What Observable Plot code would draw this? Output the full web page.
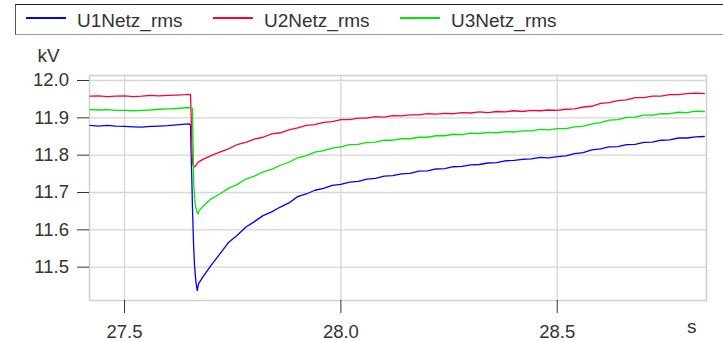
<!DOCTYPE html>
<html><head><meta charset="utf-8">
<script src="https://cdn.jsdelivr.net/npm/d3@7"></script>
<script src="https://cdn.jsdelivr.net/npm/@observablehq/plot@0.6"></script>
<style>
body{margin:0;background:#fff;font-family:"Liberation Sans",Arial,sans-serif;}
#wrap{position:relative;width:723px;height:341px;overflow:hidden;background:#fff}
#legend{position:relative;height:38px;width:723px}
#legend .box{position:absolute;left:15px;top:4px;width:730px;height:29px;border-top:1.5px solid #222;border-left:1.5px solid #555;border-bottom:1.5px solid #999;}
#legend .ln{position:absolute;top:17px;height:1.5px;width:40px}
#legend .tx{position:absolute;top:10.5px;font-size:19px;line-height:19px;color:#333;white-space:nowrap}
svg{display:block}
</style>
</head><body>
<div id="wrap">
<div id="legend"><div class="box"></div></div>
<div id="chart"></div>
</div>
<script>
// ---- data ----
const seriesNames = ["U1Netz_rms", "U2Netz_rms", "U3Netz_rms"];
const seriesColors = ["#0000ff", "#ff0033", "#00e800"];
const xTicks = [27.5, 28.0, 28.5];
const yTicks = [11.5, 11.6, 11.7, 11.8, 11.9, 12.0];

const tPre = [27.42,27.44,27.46,27.48,27.50,27.52,27.54,27.56,27.58,27.60,27.62,27.64,27.65];
const u1Pre = [11.880,11.878,11.880,11.878,11.877,11.876,11.875,11.877,11.878,11.879,11.881,11.883,11.884];
const u2Pre = [11.958,11.959,11.957,11.958,11.959,11.957,11.958,11.960,11.959,11.960,11.961,11.962,11.963];
const u3Pre = [11.922,11.921,11.922,11.920,11.920,11.919,11.920,11.921,11.923,11.924,11.925,11.927,11.927];

const tDrop1 = [27.6525,27.654,27.655,27.657,27.6595,27.662,27.665,27.668,27.671];
const u1Drop = [11.880,11.800,11.760,11.660,11.560,11.500,11.460,11.437,11.455];
const tDrop2 = [27.6525,27.654,27.6555,27.657,27.660,27.663,27.667,27.671];
const u2Drop = [11.962,11.900,11.830,11.780,11.768,11.770,11.776,11.782];
const tDrop3 = [27.6555,27.657,27.6585,27.660,27.663,27.667,27.670,27.672];
const u3Drop = [11.927,11.925,11.820,11.720,11.670,11.648,11.643,11.650];

const tPost = [27.68,27.70,27.72,27.74,27.76,27.78,27.80,27.82,27.84,27.86,
  27.88,27.90,27.92,27.94,27.96,27.98,28.00,28.02,28.04,28.06,
  28.08,28.10,28.12,28.14,28.16,28.18,28.20,28.22,28.24,28.26,
  28.28,28.30,28.32,28.34,28.36,28.38,28.40,28.42,28.44,28.46,
  28.48,28.50,28.52,28.54,28.56,28.58,28.60,28.62,28.64,28.66,
  28.68,28.70,28.72,28.74,28.76,28.78,28.80,28.82,28.84];
const u1Post = [11.472,11.505,11.535,11.566,11.585,11.607,11.622,11.638,11.648,11.661,
  11.672,11.689,11.696,11.706,11.711,11.719,11.722,11.728,11.730,11.736,
  11.738,11.744,11.745,11.750,11.751,11.757,11.758,11.763,11.764,11.769,
  11.770,11.774,11.775,11.779,11.780,11.785,11.786,11.789,11.790,11.794,
  11.793,11.796,11.798,11.804,11.807,11.814,11.817,11.822,11.823,11.828,
  11.829,11.834,11.835,11.840,11.841,11.846,11.846,11.849,11.850];
const u2Post = [11.788,11.799,11.808,11.817,11.828,11.834,11.843,11.848,11.857,11.860,
  11.868,11.873,11.880,11.882,11.888,11.890,11.895,11.895,11.899,11.899,
  11.903,11.902,11.906,11.905,11.908,11.908,11.911,11.910,11.912,11.911,
  11.914,11.913,11.916,11.914,11.917,11.916,11.919,11.917,11.920,11.919,
  11.921,11.920,11.923,11.924,11.929,11.931,11.939,11.941,11.946,11.948,
  11.954,11.954,11.958,11.958,11.962,11.962,11.965,11.966,11.965];
const u3Post = [11.662,11.683,11.696,11.711,11.721,11.736,11.744,11.755,11.762,11.773,
  11.781,11.793,11.799,11.808,11.812,11.819,11.822,11.828,11.829,11.834,
  11.835,11.840,11.840,11.844,11.844,11.848,11.848,11.852,11.852,11.856,
  11.855,11.859,11.858,11.861,11.860,11.863,11.862,11.865,11.865,11.869,
  11.868,11.871,11.871,11.876,11.878,11.884,11.887,11.894,11.895,11.901,
  11.902,11.907,11.907,11.911,11.911,11.915,11.914,11.918,11.917];

// ---- build table ----
const table = [];
function add(name, ts, vs) { ts.forEach((t, i) => table.push({series: name, t, v: vs[i]})); }
add(seriesNames[0], tPre.concat(tDrop1, tPost), u1Pre.concat(u1Drop, u1Post));
add(seriesNames[1], tPre.concat(tDrop2, tPost), u2Pre.concat(u2Drop, u2Post));
add(seriesNames[2], tPre.concat(tDrop3, tPost), u3Pre.concat(u3Drop, u3Post));

// ---- legend ----
const legend = document.getElementById("legend");
const lineX = [26, 213, 400], textX = [77, 264, 451];
seriesNames.forEach((n, i) => {
  const l = document.createElement("div");
  l.className = "ln"; l.style.left = lineX[i] + "px"; l.style.background = seriesColors[i];
  legend.appendChild(l);
  const t = document.createElement("div");
  t.className = "tx"; t.style.left = textX[i] + "px"; t.textContent = n;
  legend.appendChild(t);
});

// ---- chart ----
const fmt = d3.format(".1f");
const chart = Plot.plot({
  width: 723, height: 303,
  marginTop: 37, marginLeft: 89, marginRight: 17, marginBottom: 41,
  style: {fontFamily: "Liberation Sans, Arial, sans-serif", fontSize: "18.5px", color: "#333", background: "#fff"},
  x: {domain: [27.419, 28.845]},
  y: {domain: [11.4107, 12.0134]},
  color: {domain: seriesNames, range: seriesColors},
  marks: [
    Plot.gridX(xTicks, {stroke: "#d6d6d6", strokeOpacity: 1, strokeWidth: 1.3}),
    Plot.gridY(yTicks, {stroke: "#d6d6d6", strokeOpacity: 1, strokeWidth: 1.3}),
    Plot.frame({stroke: "#cfcfcf", strokeWidth: 1.5}),
    Plot.axisX(xTicks, {tickSize: 13, tickPadding: 11, tickFormat: fmt, label: null}),
    Plot.axisY(yTicks, {tickSize: 12, tickPadding: 8.5, tickFormat: fmt, label: null}),
    Plot.line(table, {x: "t", y: "v", z: "series", stroke: "series", strokeWidth: 1.3, clip: true}),
    Plot.text(["kV"], {frameAnchor: "top-left", textAnchor: "start", dx: -52, dy: -27, fontSize: 19}),
    Plot.text(["s"], {frameAnchor: "bottom-right", dx: -10, dy: 32, fontSize: 19})
  ]
});
document.getElementById("chart").appendChild(chart);
</script>
</body></html>
